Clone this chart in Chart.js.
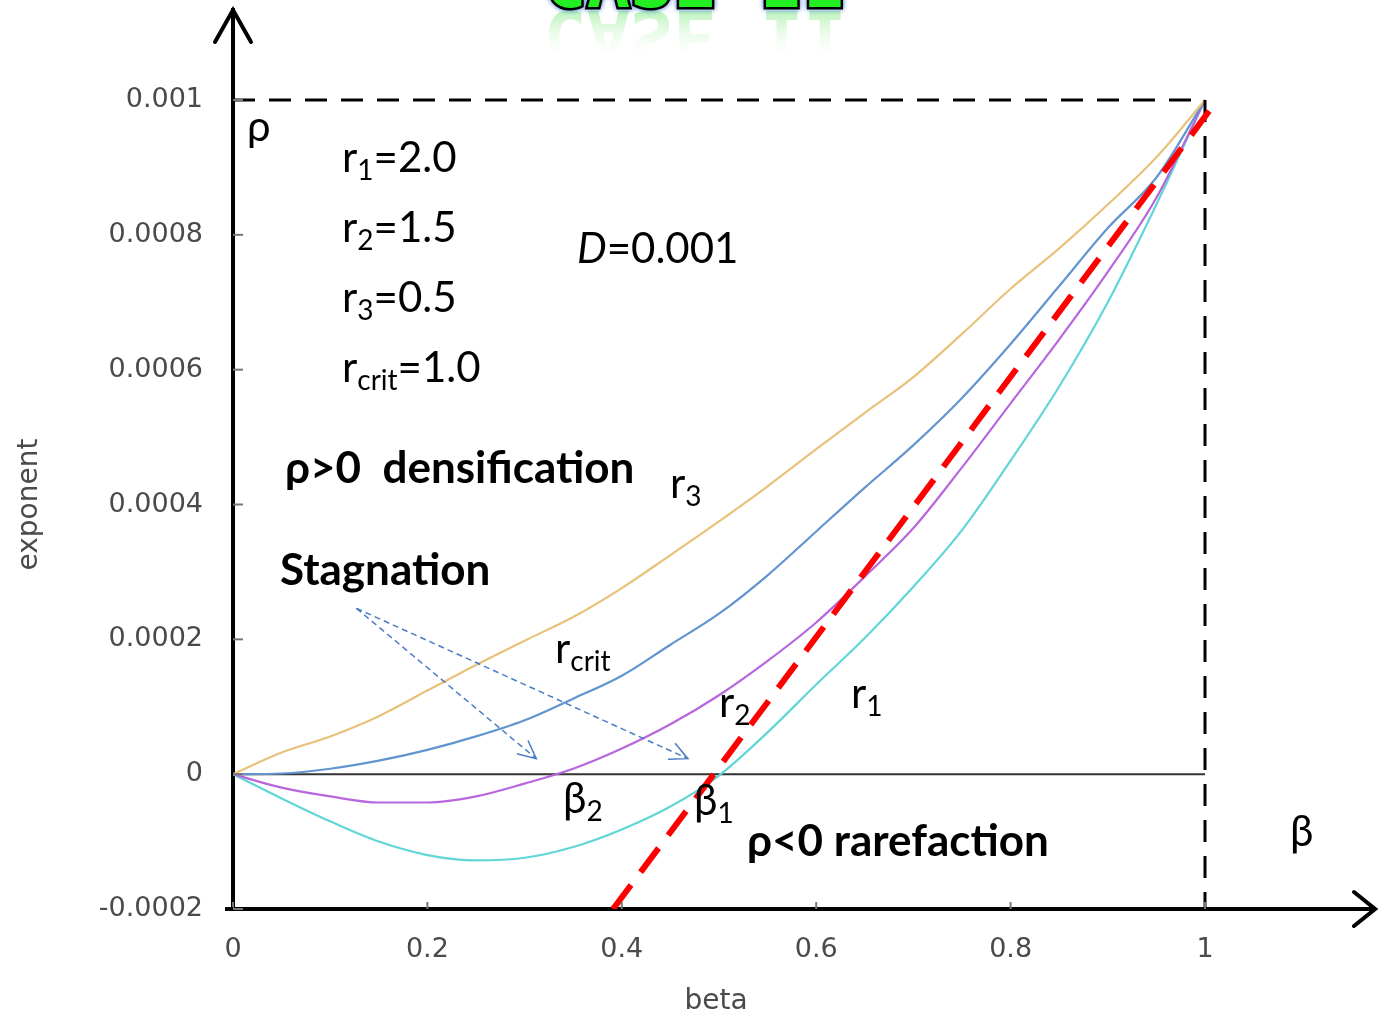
<!DOCTYPE html>
<html>
<head>
<meta charset="utf-8">
<script src="https://cdn.jsdelivr.net/npm/chart.js@4.4.1/dist/chart.umd.min.js"></script>
<style>
  html, body { margin: 0; padding: 0; background: #fff; }
  #wrap { width: 1378px; height: 1019px; }
</style>
</head>
<body>
<div id="wrap"><canvas id="chart" width="1378" height="1019"></canvas></div>
<script>
// exponent rho against beta, rho given in units of 1e-4 (D = 0.001 -> 10)
const beta = [0, 0.05, 0.1, 0.15, 0.2, 0.25, 0.3, 0.35, 0.4, 0.45, 0.5,
              0.55, 0.6, 0.65, 0.7, 0.75, 0.8, 0.85, 0.9, 0.95, 1];
const rhoR3   = [0, 0.32, 0.56, 0.86, 1.24, 1.62, 1.98, 2.33, 2.76, 3.25, 3.75,
                 4.27, 4.82, 5.36, 5.89, 6.53, 7.2, 7.8, 8.45, 9.15, 10];
const rhoCrit = [0, 0.01, 0.08, 0.2, 0.36, 0.56, 0.8, 1.12, 1.46, 1.92, 2.38,
                 2.95, 3.6, 4.25, 4.88, 5.58, 6.38, 7.24, 8.1, 8.85, 10];
const rhoR2   = [0, -0.2, -0.33, -0.42, -0.42, -0.33, -0.14, 0.08, 0.38, 0.74, 1.17,
                 1.68, 2.25, 2.93, 3.65, 4.55, 5.5, 6.45, 7.45, 8.55, 10];
const rhoR1   = [0, -0.36, -0.7, -1.0, -1.2, -1.28, -1.24, -1.08, -0.82, -0.48, -0.02,
                 0.62, 1.33, 2.02, 2.78, 3.62, 4.65, 5.75, 7.0, 8.45, 10];

// red tangent, the D box and the rho = 0 line
const tangentBeta = [0.391, 1.005];
const tangentRho  = [-2, 9.85];
const boxBeta = [0, 1, 1];
const boxRho  = [10, 10, -2];
const zeroBeta = [0, 1];
const zeroRho  = [0, 0];

// stagnation arrows: common tail and two tips (beta, rho)
const arrowTail = [0.127, 2.46];
const arrowTips = [[0.312, 0.23], [0.468, 0.23]];

const xTicks = [0, 0.2, 0.4, 0.6, 0.8, 1];
const xTickLabels = ['0', '0.2', '0.4', '0.6', '0.8', '1'];
const yTicks = [-2, 0, 2, 4, 6, 8, 10];
const yTickLabels = ['-0.0002', '0', '0.0002', '0.0004', '0.0006', '0.0008', '0.001'];

const TXT = "Lato, 'Open Sans', 'DejaVu Sans', sans-serif";
const AXF = "'DejaVu Sans', sans-serif";

const pts = (xs, ys) => xs.map((x, i) => ({ x: x, y: ys[i] }));

function curve(label, ys, color) {
  return {
    label: label, data: pts(beta, ys), borderColor: color, borderWidth: 2.2,
    cubicInterpolationMode: 'monotone', pointRadius: 0, order: 2
  };
}

// text with subscripts / italics, parts = [[text, mode], ...]
function rich(ctx, x, y, parts, size, weight) {
  let cx = x;
  for (const [t, mode] of parts) {
    const s = mode === 'sub' ? Math.round(size * 0.66) : size;
    const st = mode === 'it' ? 'italic ' : '';
    ctx.font = st + (weight || 'normal') + ' ' + s + 'px ' + TXT;
    ctx.fillText(t, cx, mode === 'sub' ? y + size * 0.2 : y);
    cx += ctx.measureText(t).width;
  }
}

function arrow(ctx, x0, y0, x1, y1) {
  ctx.save();
  ctx.strokeStyle = '#4a7cc4';
  ctx.lineWidth = 1.5;
  ctx.setLineDash([6, 4]);
  ctx.beginPath(); ctx.moveTo(x0, y0); ctx.lineTo(x1, y1); ctx.stroke();
  ctx.setLineDash([]);
  const a = Math.atan2(y1 - y0, x1 - x0);
  ctx.beginPath();
  ctx.moveTo(x1 - 20 * Math.cos(a - 0.45), y1 - 20 * Math.sin(a - 0.45));
  ctx.lineTo(x1, y1);
  ctx.lineTo(x1 - 20 * Math.cos(a + 0.45), y1 - 20 * Math.sin(a + 0.45));
  ctx.stroke();
  ctx.restore();
}

// keep the plot area fixed: no extra room for the outer tick labels
function noPad(s) {
  s.paddingTop = 0; s.paddingBottom = 0; s.paddingLeft = 0; s.paddingRight = 0;
}

const decor = {
  id: 'decor',
  afterDraw(chart) {
    const { ctx, scales: { x, y }, chartArea: ca } = chart;
    ctx.save();

    // small tick marks inside the axes
    ctx.strokeStyle = '#777';
    ctx.lineWidth = 2;
    yTicks.forEach(v => {
      const py = y.getPixelForValue(v);
      ctx.beginPath(); ctx.moveTo(ca.left, py); ctx.lineTo(ca.left + 10, py); ctx.stroke();
    });
    xTicks.forEach(v => {
      const px = x.getPixelForValue(v);
      ctx.beginPath(); ctx.moveTo(px, ca.bottom); ctx.lineTo(px, ca.bottom - 7); ctx.stroke();
    });

    // axis titles
    ctx.fillStyle = '#4a4a4a';
    ctx.font = '28px ' + AXF;
    ctx.textAlign = 'center';
    ctx.textBaseline = 'middle';
    ctx.fillText('beta', x.getPixelForValue(0.497), 1002);
    ctx.save();
    ctx.translate(30, y.getPixelForValue(4.0));
    ctx.rotate(-Math.PI / 2);
    ctx.fillText('exponent', 0, 0);
    ctx.restore();

    // axis arrow heads
    ctx.strokeStyle = '#000';
    ctx.lineWidth = 4;
    ctx.lineCap = 'round';
    ctx.beginPath();
    ctx.moveTo(ca.left - 18, ca.top + 32); ctx.lineTo(ca.left, ca.top); ctx.lineTo(ca.left + 18, ca.top + 32);
    ctx.stroke();
    ctx.beginPath();
    ctx.moveTo(ca.right - 21, ca.bottom - 17); ctx.lineTo(ca.right, ca.bottom); ctx.lineTo(ca.right - 21, ca.bottom + 17);
    ctx.stroke();
    ctx.lineCap = 'butt';
    // bottom axis runs a little past the vertical one
    ctx.beginPath(); ctx.moveTo(ca.left - 8, ca.bottom); ctx.lineTo(ca.left, ca.bottom); ctx.stroke();

    // stagnation arrows
    const tx = x.getPixelForValue(arrowTail[0]), ty = y.getPixelForValue(arrowTail[1]);
    arrowTips.forEach(([b, r]) => arrow(ctx, tx, ty, x.getPixelForValue(b), y.getPixelForValue(r)));

    // annotations
    ctx.fillStyle = '#000';
    ctx.textBaseline = 'alphabetic';
    ctx.textAlign = 'left';
    const R = 42, B = 44;
    rich(ctx, 247, 141, [['ρ', '']], R);
    rich(ctx, 342, 172, [['r', ''], ['1', 'sub'], ['=2.0', '']], R);
    rich(ctx, 342, 242, [['r', ''], ['2', 'sub'], ['=1.5', '']], R);
    rich(ctx, 342, 312, [['r', ''], ['3', 'sub'], ['=0.5', '']], R);
    rich(ctx, 342, 382, [['r', ''], ['crit', 'sub'], ['=1.0', '']], R);
    rich(ctx, 577, 263, [['D', 'it'], ['=0.001', '']], R);
    rich(ctx, 285, 483, [['ρ>0  densification', '']], B, 'bold');
    rich(ctx, 670, 498, [['r', ''], ['3', 'sub']], R);
    rich(ctx, 280, 585, [['Stagnation', '']], B, 'bold');
    rich(ctx, 555, 663, [['r', ''], ['crit', 'sub']], R);
    rich(ctx, 719, 717, [['r', ''], ['2', 'sub']], R);
    rich(ctx, 851, 708, [['r', ''], ['1', 'sub']], R);
    rich(ctx, 563, 813, [['β', ''], ['2', 'sub']], R);
    rich(ctx, 694, 815, [['β', ''], ['1', 'sub']], R);
    rich(ctx, 747, 856, [['ρ<0 rarefaction', '']], B, 'bold');
    rich(ctx, 1290, 846, [['β', '']], R);

    // heading, mostly cut off at the top edge, with its reflection
    ctx.textAlign = 'center';
    ctx.font = "bold 72px 'DejaVu Sans Mono', monospace";
    ctx.save();
    ctx.translate(0, 18);
    ctx.scale(1, -1);
    const g = ctx.createLinearGradient(0, 9, 0, -42);
    g.addColorStop(0, 'rgba(120,230,120,0.55)');
    g.addColorStop(1, 'rgba(255,255,255,0)');
    ctx.fillStyle = g;
    ctx.fillText('CASE II', 695, 7);
    ctx.restore();
    ctx.save();
    ctx.shadowColor = '#2f6fd0';
    ctx.shadowBlur = 5;
    ctx.lineWidth = 5;
    ctx.strokeStyle = '#000';
    ctx.strokeText('CASE II', 695, 7);
    ctx.restore();
    ctx.fillStyle = '#22ee22';
    ctx.fillText('CASE II', 695, 7);

    ctx.restore();
  }
};

new Chart(document.getElementById('chart'), {
  type: 'line',
  data: {
    datasets: [
      { label: 'tangent', data: pts(tangentBeta, tangentRho), borderColor: '#ff0000',
        borderWidth: 6, borderDash: [30, 16], pointRadius: 0, order: 0 },
      { label: 'D', data: pts(boxBeta, boxRho), borderColor: '#000',
        borderWidth: 3, borderDash: [22, 14], pointRadius: 0, order: 1 },
      curve('r3', rhoR3, 'rgb(232,194,122)'),
      curve('rcrit', rhoCrit, 'rgb(98,148,208)'),
      curve('r2', rhoR2, 'rgb(184,102,222)'),
      curve('r1', rhoR1, 'rgb(98,214,214)'),
      { label: 'zero', data: pts(zeroBeta, zeroRho), borderColor: '#333',
        borderWidth: 2, pointRadius: 0, order: 3 }
    ]
  },
  options: {
    responsive: false,
    animation: false,
    devicePixelRatio: 1,
    layout: { padding: { top: 10, right: 3, left: 0, bottom: 0 } },
    plugins: { legend: { display: false }, tooltip: { enabled: false } },
    scales: {
      x: {
        type: 'linear', min: 0, max: 1.1749,
        afterFit: s => { s.height = 110; noPad(s); },
        afterBuildTicks: s => { s.ticks = xTicks.map(v => ({ value: v })); },
        ticks: { callback: (v, i) => xTickLabels[i], autoSkip: false, maxRotation: 0,
                 color: '#4a4a4a', padding: 25, font: { family: AXF, size: 27 } },
        grid: { display: false, drawTicks: false },
        border: { display: true, color: '#000', width: 4 }
      },
      y: {
        type: 'linear', min: -2, max: 11.335,
        afterFit: s => { s.width = 233; noPad(s); },
        afterBuildTicks: s => { s.ticks = yTicks.map(v => ({ value: v })); },
        ticks: { callback: (v, i) => yTickLabels[i], autoSkip: false,
                 color: '#4a4a4a', padding: 30, font: { family: AXF, size: 27 } },
        grid: { display: false, drawTicks: false },
        border: { display: true, color: '#000', width: 4 }
      }
    }
  },
  plugins: [decor]
});
</script>
</body>
</html>
